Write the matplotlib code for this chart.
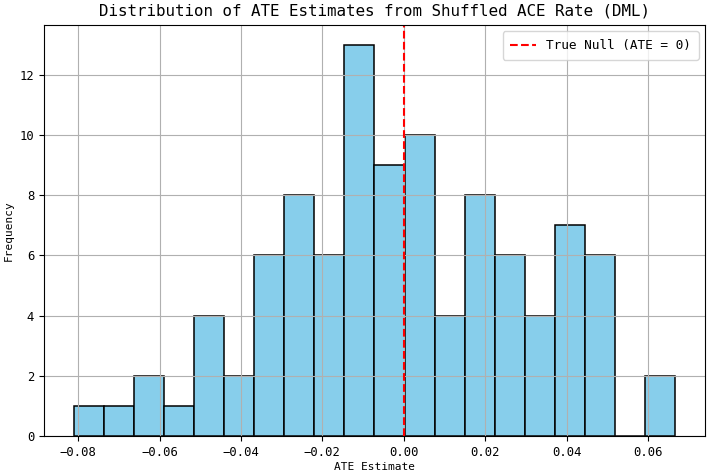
import numpy as np
import matplotlib
matplotlib.use("Agg")
import matplotlib.pyplot as plt

plt.rcParams['font.family'] = ['DejaVu Sans Mono']

# histogram: 20 bins between the min and max estimate
ate_min = -0.081
ate_max = 0.0666
counts = [1, 1, 2, 1, 4, 2, 6, 8, 6, 13, 9, 10, 4, 8, 6, 4, 7, 6, 0, 2]

edges = np.linspace(ate_min, ate_max, len(counts) + 1)
centers = (edges[:-1] + edges[1:]) / 2

fig = plt.figure(figsize=(7.07, 4.76), dpi=100)
ax = fig.add_axes([0.0622, 0.084, 0.935, 0.8635])

ax.hist(centers, bins=edges, weights=counts, color="skyblue",
        edgecolor="black", linewidth=1.1)
ax.axvline(0, color="red", linestyle="--", linewidth=1.5, label="True Null (ATE = 0)")

ax.set_title("Distribution of ATE Estimates from Shuffled ACE Rate (DML)", fontsize=11.4, pad=7)
ax.set_xlabel("ATE Estimate", fontsize=8, labelpad=2)
ax.set_ylabel("Frequency", fontsize=8, labelpad=4)
ax.tick_params(labelsize=8.8)
ax.set_xticks([-0.08, -0.06, -0.04, -0.02, 0.0, 0.02, 0.04, 0.06])
ax.grid(True)
ax.legend(loc="upper right", fontsize=9.2, borderpad=0.6)

fig.savefig("out.png", dpi=100)
